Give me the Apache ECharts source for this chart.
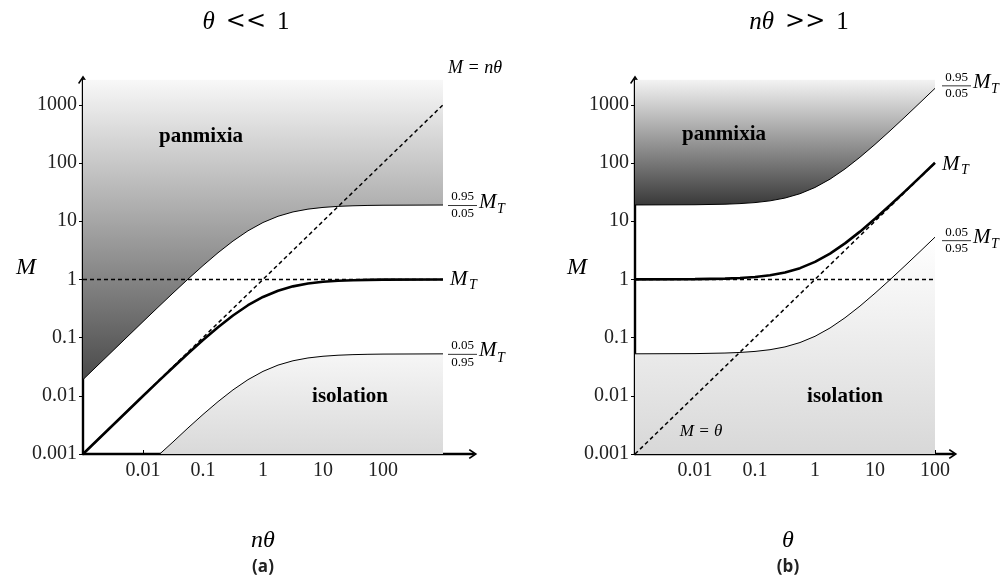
<!DOCTYPE html>
<html><head><meta charset="utf-8">
<script src="https://cdn.jsdelivr.net/npm/echarts@6/dist/echarts.min.js"></script>
<style>html,body{margin:0;padding:0;background:#fff}#c{width:1006px;height:585px}</style>
</head><body><div id="c"></div>
<script>
// ---------- tick values / labels ----------
const yTickValues = [0.001, 0.01, 0.1, 1, 10, 100, 1000];
const yTickLabels = ['0.001', '0.01', '0.1', '1', '10', '100', '1000'];
const xTickValues = [0.01, 0.1, 1, 10, 100];
const xTickLabels = ['0.01', '0.1', '1', '10', '100'];

// ---------- panel (a): theta << 1, x = n*theta ----------
const aX      = [0.001, 0.01, 0.0178, 0.0316, 0.0562, 0.1, 0.178, 0.316, 0.562, 1, 1.78, 3.16, 5.62, 10, 17.8, 31.6, 56.2, 100, 1000];
const aMT     = [0.001, 0.0099, 0.0175, 0.0306, 0.0532, 0.0909, 0.151, 0.24, 0.36, 0.5, 0.64, 0.76, 0.849, 0.909, 0.947, 0.969, 0.983, 0.99, 0.999];
const aUpper  = [0.019, 0.188, 0.332, 0.582, 1.011, 1.727, 2.87, 4.56, 6.84, 9.5, 12.16, 14.44, 16.13, 17.27, 17.99, 18.41, 18.68, 18.81, 18.98];
const aLowX   = [0.019, 0.0316, 0.0562, 0.1, 0.178, 0.316, 0.562, 1, 1.78, 3.16, 5.62, 10, 17.8, 31.6, 56.2, 100, 1000];
const aLower  = [0.001, 0.00161, 0.0028, 0.00478, 0.00794, 0.01263, 0.01894, 0.0263, 0.0337, 0.04, 0.0447, 0.0478, 0.0498, 0.051, 0.0517, 0.0521, 0.0526];
const aDiagX  = [0.001, 1000];
const aDiagM  = [0.001, 1000];
const aHorX   = [0.001, 1000];
const aHorM   = [1, 1];

// ---------- panel (b): n*theta >> 1, x = theta ----------
const bX      = [0.001, 0.01, 0.0316, 0.0562, 0.1, 0.178, 0.316, 0.562, 1, 1.78, 3.16, 5.62, 10, 17.8, 31.6, 56.2, 100];
const bMT     = [1.001, 1.01, 1.032, 1.056, 1.1, 1.178, 1.316, 1.562, 2, 2.78, 4.16, 6.62, 11, 18.8, 32.6, 57.2, 101];
const bUpper  = [19.02, 19.19, 19.6, 20.07, 20.9, 22.38, 25.0, 29.68, 38, 52.8, 79.0, 125.8, 209, 357, 619, 1087, 1919];
const bLower  = [0.0527, 0.0531, 0.0543, 0.0556, 0.0579, 0.062, 0.0692, 0.0822, 0.1053, 0.1463, 0.219, 0.348, 0.579, 0.989, 1.716, 3.01, 5.32];
const bDiagX  = [0.001, 100];
const bDiagM  = [0.001, 100];
const bHorX   = [0.001, 100];
const bHorM   = [1, 1];

const zip = (xs, ys) => xs.map((x, i) => [x, ys[i]]);
const SERIF = '"Liberation Serif", "DejaVu Serif", serif';
const ARROW = 'path://M5,0 L10,7.5 L8.8,8.5 L5,3 L1.2,8.5 L0,7.5 Z';

function grad(top, bottom) {
  return { type: 'linear', x: 0, y: 0, x2: 0, y2: 1,
    colorStops: [{ offset: 0, color: top }, { offset: 1, color: bottom }] };
}

function xAxisDef(gi, max) {
  return {
    type: 'log', gridIndex: gi, min: 0.001, max: max, logBase: 10,
    axisLine: { show: true, onZero: false, lineStyle: { color: '#000', width: 2.4 },
      symbol: ['none', ARROW], symbolSize: [10, 9] },
    axisTick: { show: true, inside: true, length: 4, customValues: xTickValues,
      lineStyle: { color: '#000', width: 1 } },
    axisLabel: { show: true, customValues: xTickValues, margin: 7,
      formatter: v => { const i = xTickValues.findIndex(t => Math.abs(Math.log10(t) - Math.log10(v)) < 1e-6); return i >= 0 ? xTickLabels[i] : ''; },
      fontFamily: SERIF, fontSize: 20, color: '#222' },
    splitLine: { show: false }
  };
}
function yAxisDef(gi, max) {
  return {
    type: 'log', gridIndex: gi, min: 0.001, max: max, logBase: 10,
    axisLine: { show: true, onZero: false, lineStyle: { color: '#000', width: 2.4 },
      symbol: ['none', ARROW], symbolSize: [10, 9] },
    axisTick: { show: true, inside: false, length: 4, customValues: yTickValues,
      lineStyle: { color: '#000', width: 1 } },
    axisLabel: { show: true, customValues: yTickValues, margin: 6,
      formatter: v => { const i = yTickValues.findIndex(t => Math.abs(Math.log10(t) - Math.log10(v)) < 1e-6); return i >= 0 ? yTickLabels[i] : ''; },
      fontFamily: SERIF, fontSize: 20, color: '#222' },
    splitLine: { show: false }
  };
}

const thin = { color: '#000', width: 1 };
const thick = { color: '#000', width: 2.6 };
const dash = { color: '#000', width: 1.5, type: [4, 3] };

function curve(gi, data, lineStyle, area, z) {
  const s = { type: 'line', xAxisIndex: gi, yAxisIndex: gi, data: data, showSymbol: false,
    symbol: 'none', smooth: false, lineStyle: lineStyle, silent: true, z: z || 3,
    clip: true, animation: false };
  if (area) s.areaStyle = area;
  return s;
}
function straight(gi, data, lineStyle, z) {
  return { type: 'line', xAxisIndex: gi, yAxisIndex: gi, data: data, showSymbol: false,
    symbol: 'none', lineStyle: lineStyle, silent: true, z: z || 4, animation: false };
}

const YMAX = Math.pow(10, 3.43);
const option = {
  animation: false,
  backgroundColor: '#fff',
  grid: [
    { left: 83, top: 79.8, width: 390, height: 374.2 },
    { left: 635, top: 79.8, width: 318, height: 374.2 }
  ],
  xAxis: [xAxisDef(0, Math.pow(10, 3.5)), xAxisDef(1, Math.pow(10, 2.3))],
  yAxis: [yAxisDef(0, YMAX), yAxisDef(1, YMAX)],
  series: [
    // panel a
    curve(0, zip(aX, aUpper), thin, { origin: 'end', opacity: 1, color: grad('#f8f8f8', '#4a4a4a') }, 2),
    curve(0, zip(aLowX, aLower), thin, { origin: 'start', opacity: 1, color: grad('#f6f6f6', '#d9d9d9') }, 2),
    straight(0, zip(aHorX, aHorM), dash, 4),
    straight(0, zip(aDiagX, aDiagM), dash, 4),
    curve(0, zip(aX, aMT), thick, null, 5),
    // panel b
    curve(1, zip(bX, bUpper), thin, { origin: 'end', opacity: 1, color: grad('#f3f3f3', '#393939') }, 2),
    curve(1, zip(bX, bLower), thin, { origin: 'start', opacity: 1, color: grad('#ffffff', '#d8d8d8') }, 2),
    straight(1, zip(bHorX, bHorM), dash, 4),
    straight(1, zip(bDiagX, bDiagM), dash, 4),
    curve(1, zip(bX, bMT), thick, null, 5)
  ]
};

const chart = echarts.init(document.getElementById('c'), null, { renderer: 'canvas' });
chart.setOption(option);

function P(gi, x, y) { return chart.convertToPixel({ gridIndex: gi }, [x, y]); }
function txt(x, y, text, font, align, extra) {
  return { type: 'text', z: 100, style: Object.assign({ x: x, y: y, text: text, font: font, fill: '#000',
    align: align || 'left', verticalAlign: 'middle' }, extra || {}) };
}
function fracLabel(x, yc, num, den) {
  return [
    txt(x + 14.5, yc - 8, num, '13px ' + SERIF, 'center'),
    { type: 'line', z: 100, shape: { x1: x, y1: yc + 0.5, x2: x + 29, y2: yc + 0.5 }, style: { stroke: '#000', lineWidth: 0.8 } },
    txt(x + 14.5, yc + 8.5, den, '13px ' + SERIF, 'center'),
    txt(x + 31, yc - 3, 'M', 'italic 21px ' + SERIF, 'left'),
    txt(x + 49, yc + 4, 'T', 'italic 14px ' + SERIF, 'left')
  ];
}
function mtLabel(x, yc) {
  return [
    txt(x, yc, 'M', 'italic 21px ' + SERIF, 'left'),
    txt(x + 19, yc + 6, 'T', 'italic 14px ' + SERIF, 'left')
  ];
}

const aUpEnd = P(0, aX[aX.length - 1], aUpper[aUpper.length - 1]);
const aMTEnd = P(0, aX[aX.length - 1], aMT[aMT.length - 1]);
const aLoEnd = P(0, aLowX[aLowX.length - 1], aLower[aLower.length - 1]);
const bUpEnd = P(1, bX[bX.length - 1], bUpper[bUpper.length - 1]);
const bMTEnd = P(1, bX[bX.length - 1], bMT[bMT.length - 1]);
const bLoEnd = P(1, bX[bX.length - 1], bLower[bLower.length - 1]);

const rich = {
  i: { fontFamily: SERIF, fontStyle: 'italic', fontSize: 25, fill: '#000' },
  s: { fontFamily: '"DejaVu Serif", serif', fontSize: 24, fill: '#000', padding: [0, 11, 0, 11] },
  r: { fontFamily: SERIF, fontSize: 25, fill: '#000' }
};

const graphics = [].concat(
  // titles
  [{ type: 'text', z: 100, style: { x: 246, y: 22, text: '{i|θ}{s|<<}{r|1}', rich: rich, align: 'center', verticalAlign: 'middle' } }],
  [{ type: 'text', z: 100, style: { x: 799, y: 22, text: '{i|nθ}{s|>>}{r|1}', rich: rich, align: 'center', verticalAlign: 'middle' } }],
  // y axis names
  [txt(26, 268, 'M', 'italic 24px ' + SERIF, 'center'), txt(577, 268, 'M', 'italic 24px ' + SERIF, 'center')],
  // x axis names
  [txt(263, 541, 'nθ', 'italic 24px ' + SERIF, 'center'), txt(788, 541, 'θ', 'italic 24px ' + SERIF, 'center')],
  // sub-figure labels
  [txt(263, 567, '(a)', 'bold 17px "Open Sans", "Noto Sans", sans-serif', 'center', { fill: '#222' }),
   txt(788, 567, '(b)', 'bold 17px "Open Sans", "Noto Sans", sans-serif', 'center', { fill: '#222' })],
  // region labels
  [txt(201, 137, 'panmixia', 'bold 21px ' + SERIF, 'center'),
   txt(724, 135, 'panmixia', 'bold 21px ' + SERIF, 'center'),
   txt(350, 397, 'isolation', 'bold 21px ' + SERIF, 'center'),
   txt(845, 397, 'isolation', 'bold 21px ' + SERIF, 'center')],
  // line labels
  [txt(448, 68, 'M = nθ', 'italic 18px ' + SERIF, 'left'),
   txt(701, 432, 'M = θ', 'italic 17px ' + SERIF, 'center')],
  fracLabel(aUpEnd[0] + 5, aUpEnd[1], '0.95', '0.05'),
  mtLabel(aMTEnd[0] + 7, aMTEnd[1]),
  fracLabel(aLoEnd[0] + 5, aLoEnd[1], '0.05', '0.95'),
  fracLabel(bUpEnd[0] + 7, bUpEnd[1] - 3, '0.95', '0.05'),
  mtLabel(bMTEnd[0] + 7, bMTEnd[1] + 2),
  fracLabel(bLoEnd[0] + 7, bLoEnd[1] + 3, '0.05', '0.95')
);
chart.setOption({ graphic: graphics });
</script>
</body></html>
